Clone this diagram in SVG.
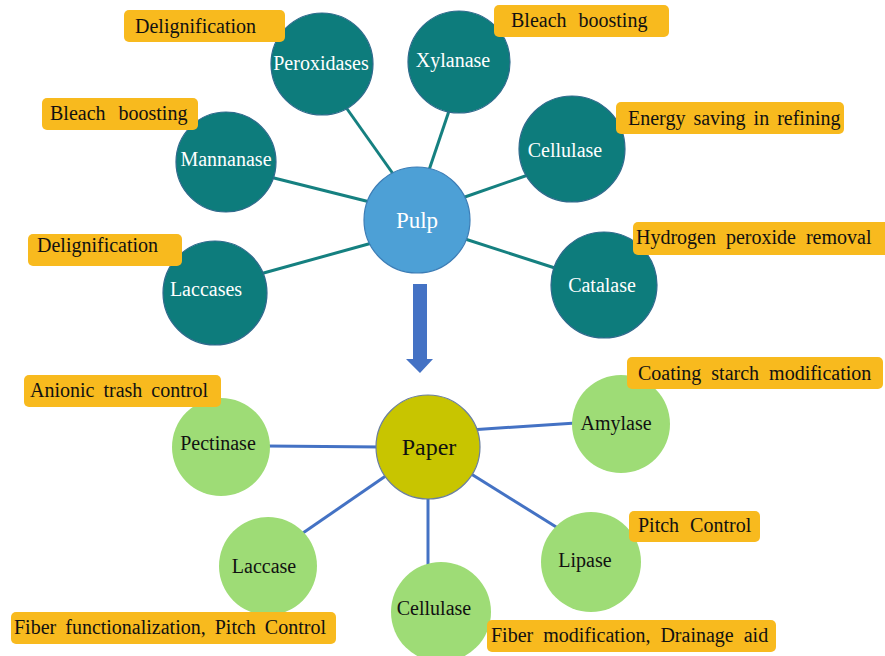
<svg xmlns="http://www.w3.org/2000/svg" width="885" height="656" viewBox="0 0 885 656" font-family="'Liberation Serif', 'Times New Roman', 'DejaVu Serif', serif">
<style>
text{font-family:'Liberation Serif','Times New Roman','DejaVu Serif',serif;}
.teal{fill:#0D7C7C;stroke:#2F6A8C;stroke-width:1.2;}
.green{fill:#9EDC76;}
.wt{fill:#FFFFFF;font-size:20px;text-anchor:middle;}
.bt{fill:#111111;font-size:20px;text-anchor:middle;}
.lab{fill:#F8BA1E;}
.lt{fill:#111111;font-size:20px;word-spacing:4px;}
.ct{stroke:#158080;stroke-width:3;fill:none;}
.cb{stroke:#4472C4;stroke-width:3;fill:none;}
</style>
<rect width="885" height="656" fill="#FFFFFF"/>
<g id="connectors">
<line class="ct" x1="345" y1="106" x2="396" y2="178"/>
<line class="ct" x1="450" y1="108" x2="427" y2="176"/>
<line class="ct" x1="270" y1="177" x2="370" y2="202"/>
<line class="ct" x1="260" y1="274" x2="372" y2="243"/>
<line class="ct" x1="528" y1="175" x2="462" y2="198"/>
<line class="ct" x1="558" y1="269" x2="462" y2="238"/>
<line class="cb" x1="266" y1="446" x2="382" y2="447"/>
<line class="cb" x1="300" y1="535" x2="390" y2="473"/>
<line class="cb" x1="428" y1="496" x2="428" y2="566"/>
<line class="cb" x1="470" y1="430" x2="576" y2="423"/>
<line class="cb" x1="468" y1="472" x2="561" y2="530"/>
<path id="arrow" d="M413 284 H427 V359 H433 L420 373 L406 359 H413 Z" fill="#4472C4"/>
</g>
<g id="pulp">
<circle cx="417" cy="220" r="53" fill="#4DA0D6" stroke="#3C7DB6" stroke-width="1.2"/>
<text class="wt" x="417" y="228" style="font-size:23px">Pulp</text>
</g>
<g id="peroxidases">
<circle class="teal" cx="322" cy="64" r="51"/>
<text class="wt" x="321" y="70">Peroxidases</text>
</g>
<g id="xylanase">
<circle class="teal" cx="459" cy="62" r="51"/>
<text class="wt" x="453" y="67">Xylanase</text>
</g>
<g id="mannanase">
<circle class="teal" cx="226" cy="162" r="50"/>
<text class="wt" x="226" y="166">Mannanase</text>
</g>
<g id="laccases">
<circle class="teal" cx="215" cy="293" r="52"/>
<text class="wt" x="206" y="296">Laccases</text>
</g>
<g id="cellulase-top">
<circle class="teal" cx="572" cy="149" r="53"/>
<text class="wt" x="565" y="157">Cellulase</text>
</g>
<g id="catalase">
<circle class="teal" cx="604" cy="285" r="53"/>
<text class="wt" x="602" y="292">Catalase</text>
</g>
<g id="label-delig-top">
<rect class="lab" x="124" y="10" width="161" height="32" rx="5"/>
<text class="lt" x="135" y="33">Delignification</text>
</g>
<g id="label-bleach-left">
<rect class="lab" x="42" y="98" width="156" height="32" rx="5"/>
<text class="lt" x="50" y="120" style="word-spacing:8px">Bleach boosting</text>
</g>
<g id="label-delig-low">
<rect class="lab" x="28" y="234" width="154" height="32" rx="5"/>
<text class="lt" x="37" y="252">Delignification</text>
</g>
<g id="label-bleach-right">
<rect class="lab" x="494" y="5" width="175" height="32" rx="5"/>
<text class="lt" x="511" y="27" style="word-spacing:7px">Bleach boosting</text>
</g>
<g id="label-energy">
<rect class="lab" x="616" y="102" width="228" height="32" rx="5"/>
<text class="lt" x="628" y="125" style="word-spacing:3px">Energy saving in refining</text>
</g>
<g id="label-hydrogen">
<rect class="lab" x="633" y="222" width="260" height="33" rx="5"/>
<text class="lt" x="636" y="244" style="word-spacing:5px">Hydrogen peroxide removal</text>
</g>
<g id="paper">
<circle cx="428" cy="447" r="52" fill="#C8C500" stroke="#6B7F9E" stroke-width="1.2"/>
<text class="bt" x="429" y="455" style="font-size:24px">Paper</text>
</g>
<g id="pectinase">
<circle class="green" cx="221" cy="447" r="49"/>
<text class="bt" x="218" y="450">Pectinase</text>
</g>
<g id="laccase">
<circle class="green" cx="268" cy="566" r="49"/>
<text class="bt" x="264" y="573">Laccase</text>
</g>
<g id="cellulase-bottom">
<circle class="green" cx="441" cy="612" r="50"/>
<text class="bt" x="434" y="615">Cellulase</text>
</g>
<g id="amylase">
<circle class="green" cx="621" cy="424" r="49"/>
<text class="bt" x="616" y="430">Amylase</text>
</g>
<g id="lipase">
<circle class="green" cx="591" cy="562" r="50"/>
<text class="bt" x="585" y="567">Lipase</text>
</g>
<g id="label-anionic">
<rect class="lab" x="24" y="375" width="197" height="32" rx="5"/>
<text class="lt" x="30" y="397">Anionic trash control</text>
</g>
<g id="label-fiber-func">
<rect class="lab" x="11" y="612" width="325" height="32" rx="5"/>
<text class="lt" x="14" y="634">Fiber functionalization, Pitch Control</text>
</g>
<g id="label-coating">
<rect class="lab" x="627" y="357" width="256" height="32" rx="5"/>
<text class="lt" x="638" y="380" style="word-spacing:5px">Coating starch modification</text>
</g>
<g id="label-pitch">
<rect class="lab" x="629" y="511" width="131" height="31" rx="5"/>
<text class="lt" x="638" y="532" style="word-spacing:6px">Pitch Control</text>
</g>
<g id="label-fiber-mod">
<rect class="lab" x="487" y="620" width="289" height="32" rx="5"/>
<text class="lt" x="491" y="642" style="word-spacing:5px">Fiber modification, Drainage aid</text>
</g>
</svg>
